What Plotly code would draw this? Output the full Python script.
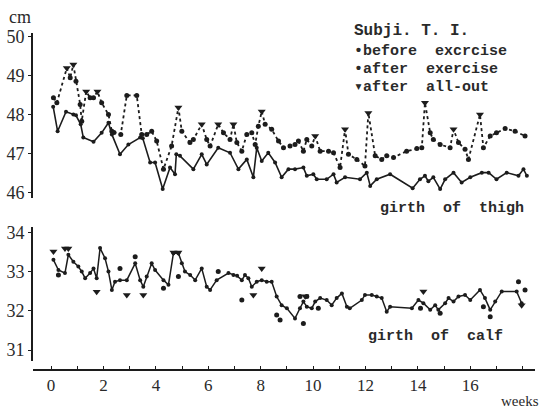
import plotly.graph_objects as go

# ---- thigh girth (cm) ----
thigh_before_weeks = [0.08, 0.25, 0.57, 0.85, 0.95, 1.13, 1.23, 1.62, 1.93, 2.19, 2.32, 2.63, 2.95, 3.4, 3.5,
                      3.78, 3.97, 4.26, 4.54, 4.73, 4.78, 4.92, 5.43, 5.75, 5.94, 6.38, 6.83, 7.15, 7.47, 7.72,
                      7.85, 8.04, 8.29, 8.55, 8.8, 9.06, 9.31, 9.63, 9.76, 10.01, 10.14, 10.52, 10.78, 10.9,
                      11.22, 11.79, 12.05, 12.18, 12.43, 12.94, 13.8, 14.08, 14.27, 14.4, 14.59, 14.85, 15.04,
                      15.36, 15.67, 16.0, 16.44, 16.7, 17.0, 17.39, 17.84, 18.03, 18.16]
thigh_before_vals = [48.21, 47.58, 48.08, 48.01, 47.99, 47.76, 47.42, 47.31, 47.54, 47.80, 47.50, 46.99, 47.24, 47.42, 47.40,
                     46.78, 46.78, 46.10, 46.65, 46.48, 46.99, 46.95, 46.61, 46.99, 46.73, 47.16, 47.03, 46.61, 46.86, 46.40,
                     47.16, 46.82, 47.03, 46.78, 46.40, 46.61, 46.61, 46.65, 46.44, 46.48, 46.35, 46.35, 46.48, 46.27,
                     46.40, 46.35, 46.52, 46.18, 46.35, 46.48, 46.12, 46.35, 46.44, 46.30, 46.40, 46.10, 46.35,
                     46.52, 46.27, 46.40, 46.52, 46.52, 46.35, 46.52, 46.44, 46.61, 46.44]

thigh_exercise_weeks = [0.09, 0.22, 0.73, 0.95, 1.11, 1.17, 1.49, 1.62, 1.93, 2.19, 2.32, 2.4, 2.66, 2.89, 3.27,
                        3.46, 3.65, 3.84, 4.03, 4.29, 4.6, 4.99, 5.3, 5.43, 5.94, 6.07, 6.58, 6.83, 7.09, 7.28,
                        7.47, 7.66, 7.79, 7.91, 8.17, 8.42, 8.68, 8.87, 9.12, 9.31, 9.44, 9.63, 9.76, 9.95, 10.27,
                        10.59, 10.78, 11.03, 11.35, 11.67, 11.98, 12.37, 12.62, 12.81, 13.07, 13.57, 13.96, 14.15,
                        14.47, 14.59, 14.85, 15.23, 15.55, 15.8, 15.93, 16.5, 16.76, 17.0, 17.33, 17.71, 18.09]
thigh_exercise_vals = [48.44, 48.31, 48.95, 48.86, 48.27, 47.84, 48.44, 48.44, 48.31, 48.01, 47.58, 47.55, 47.50, 48.50, 48.50,
                       47.50, 47.50, 47.58, 47.33, 46.61, 47.20, 47.58, 47.29, 47.37, 47.37, 47.20, 47.54, 47.37, 47.29, 47.07,
                       47.50, 47.54, 47.24, 47.71, 47.76, 47.63, 47.33, 47.16, 47.20, 47.24, 47.33, 47.07, 47.37, 47.20, 47.07,
                       47.07, 47.03, 46.65, 46.99, 46.86, 46.69, 46.95, 46.86, 46.95, 46.91, 47.07, 47.14, 47.16,
                       47.54, 47.37, 47.24, 47.16, 47.29, 47.12, 46.86, 47.16, 47.46, 47.54, 47.65, 47.58, 47.46]

thigh_allout_weeks = [0.6, 0.85, 1.34, 1.77, 4.86, 5.75, 6.38, 6.96, 8.04, 10.08, 11.22, 12.11, 14.27, 15.36, 16.37]
thigh_allout_vals = [49.20, 49.29, 48.60, 48.60, 48.19, 47.76, 47.76, 47.76, 48.09, 47.46, 47.63, 48.05, 48.31, 47.63, 48.01]

# ---- calf girth (cm) ----
calf_before_weeks = [0.09, 0.28, 0.53, 0.66, 0.85, 1.04, 1.17, 1.3, 1.49, 1.62, 1.74, 1.87, 2.06, 2.19, 2.32, 2.44,
                     2.63, 2.89, 3.21, 3.4, 3.52, 3.65, 3.84, 3.97, 4.29, 4.48, 4.67, 4.86, 4.99, 5.11, 5.31, 5.5,
                     5.75, 5.94, 6.07, 6.32, 6.77, 6.96, 7.1, 7.28, 7.4, 7.53, 7.66, 7.85, 8.04, 8.23, 8.42, 8.61,
                     8.8, 9.0, 9.31, 9.5, 9.63, 9.76, 9.95, 10.08, 10.27, 10.52, 10.71, 10.9, 11.1, 11.29, 11.4,
                     11.86, 11.98, 12.24, 12.43, 12.62, 12.81, 12.94, 13.77, 14.02, 14.21, 14.47, 14.66, 14.78,
                     15.04, 15.17, 15.36, 15.55, 15.8, 16.0, 16.37, 16.56, 16.76, 16.95, 17.2, 17.77, 17.96]
calf_before_vals = [33.31, 33.05, 32.97, 33.44, 33.26, 33.14, 33.01, 32.84, 32.97, 33.09, 32.84, 33.61, 33.35, 33.01, 32.54, 32.75,
                    32.79, 32.79, 33.22, 32.79, 32.62, 32.88, 33.22, 33.05, 32.79, 32.67, 33.48, 33.48, 33.22, 33.01, 32.92, 32.79,
                    33.09, 32.62, 32.54, 32.79, 32.97, 32.92, 32.90, 32.79, 32.92, 32.84, 32.62, 32.75, 32.79, 32.75, 32.75, 32.37,
                    32.15, 32.07, 31.81, 32.07, 32.24, 32.11, 32.07, 32.24, 32.33, 32.28, 32.15, 32.33, 32.45, 32.11, 32.07,
                    32.28, 32.41, 32.41, 32.37, 32.33, 31.98, 32.11, 32.07, 32.28, 32.20, 32.03, 32.15, 32.03,
                    32.20, 32.33, 32.24, 32.37, 32.41, 32.28, 32.54, 32.33, 32.03, 32.24, 32.50, 32.50, 32.20]

calf_exercise_weeks = [0.28, 2.63, 3.21, 4.29, 4.86, 6.38, 7.28, 8.61, 8.74, 9.5, 9.63, 9.76, 10.2, 14.1, 14.85,
                       16.5, 16.76, 17.84, 18.09]
calf_exercise_vals = [32.92, 33.09, 33.39, 32.58, 32.88, 33.01, 32.28, 31.90, 31.77, 32.37, 31.68, 32.37, 32.07, 32.07, 31.94,
                      32.11, 31.85, 32.75, 32.54]

calf_allout_weeks = [0.09, 0.53, 0.66, 1.74, 2.89, 3.52, 4.67, 4.86, 7.72, 8.04, 9.7, 14.21, 17.96]
calf_allout_vals = [33.52, 33.60, 33.60, 32.49, 32.41, 32.41, 33.50, 33.50, 32.41, 33.09, 32.38, 32.50, 32.15]

x_tick_vals = list(range(0, 19))
x_tick_text = [str(v) if v % 2 == 0 and v <= 16 else "" for v in x_tick_vals]

INK = "#1c1c1c"
SERIF = "Liberation Serif, DejaVu Serif, serif"
MONO = "Liberation Mono, DejaVu Sans Mono, monospace"

# dotted upper thigh trace joins the after-exercise and after-all-out readings in time order
upper = sorted(zip(thigh_exercise_weeks + thigh_allout_weeks, thigh_exercise_vals + thigh_allout_vals))
upper_w = [p[0] for p in upper]
upper_v = [p[1] for p in upper]

fig = go.Figure()

fig.add_trace(go.Scatter(x=upper_w, y=upper_v, mode="lines", yaxis="y",
                         line=dict(color=INK, width=1.8, dash="dot"), showlegend=False))
fig.add_trace(go.Scatter(x=thigh_exercise_weeks, y=thigh_exercise_vals, mode="markers", yaxis="y",
                         marker=dict(color=INK, size=5), showlegend=False))
fig.add_trace(go.Scatter(x=thigh_allout_weeks, y=thigh_allout_vals, mode="markers", yaxis="y",
                         marker=dict(color=INK, size=7, symbol="triangle-down"), showlegend=False))
fig.add_trace(go.Scatter(x=thigh_before_weeks, y=thigh_before_vals, mode="lines+markers", yaxis="y",
                         line=dict(color=INK, width=1.6), marker=dict(color=INK, size=4), showlegend=False))

fig.add_trace(go.Scatter(x=calf_before_weeks, y=calf_before_vals, mode="lines+markers", yaxis="y2",
                         line=dict(color=INK, width=1.5), marker=dict(color=INK, size=4), showlegend=False))
fig.add_trace(go.Scatter(x=calf_exercise_weeks, y=calf_exercise_vals, mode="markers", yaxis="y2",
                         marker=dict(color=INK, size=5), showlegend=False))
fig.add_trace(go.Scatter(x=calf_allout_weeks, y=calf_allout_vals, mode="markers", yaxis="y2",
                         marker=dict(color=INK, size=7, symbol="triangle-down"), showlegend=False))

# plot area spans x 33..535 px and y 33..370 px
L, R, T, B = 33, 535, 33, 370
W, H = R - L, B - T


def px(x):
    return (x - L) / W


def py(y):
    return (B - y) / H


yaxis_common = dict(showgrid=False, zeroline=False, showline=True, linecolor=INK, linewidth=2,
                    ticks="outside", ticklen=3, tickcolor=INK, dtick=1, automargin=False,
                    tickfont=dict(family=SERIF, size=18, color="#2a2a2a"))

fig.update_layout(
    width=545, height=411,
    margin=dict(l=L, r=545 - R, t=T, b=411 - B),
    paper_bgcolor="white", plot_bgcolor="white",
    xaxis=dict(range=[-0.69, 18.47], anchor="free", position=0, showgrid=False, zeroline=False,
               showline=True, linecolor=INK, linewidth=1.5, automargin=False,
               tickvals=x_tick_vals, ticktext=x_tick_text, ticks="inside", ticklen=3, tickcolor=INK,
               tickfont=dict(family=SERIF, size=17, color="#2a2a2a")),
    yaxis=dict(domain=[py(198), 1.0], range=[45.87, 50.10], tickvals=[46, 47, 48, 49, 50], **yaxis_common),
    yaxis2=dict(domain=[py(361), py(227)], range=[30.72, 34.15], tickvals=[31, 32, 33, 34], **yaxis_common),
    showlegend=False,
)

mono = dict(family=MONO, size=15, color="#2a2a2a", weight="bold")
annotations = [
    dict(text="cm", x=px(20), y=py(17), font=dict(family=SERIF, size=18, color="#2a2a2a")),
    dict(text="weeks", x=px(541), y=py(401), xanchor="right", font=dict(family=SERIF, size=15, color="#2a2a2a")),
    dict(text="Subji. T. I.", x=px(352), y=py(31), xanchor="left", font=dict(mono, size=16)),
    dict(text="\u2022before  excrcise", x=px(352), y=py(52), xanchor="left", font=mono),
    dict(text="\u2022after  exercise", x=px(352), y=py(69), xanchor="left", font=mono),
    dict(text="\u25beafter  all-out", x=px(352), y=py(87), xanchor="left", font=mono),
    dict(text="girth  of  thigh", x=px(378), y=py(208), xanchor="left", font=mono),
    dict(text="girth  of  calf", x=px(366), y=py(336), xanchor="left", font=mono),
]
for a in annotations:
    a.update(xref="paper", yref="paper", showarrow=False, yanchor="middle")
    a.setdefault("xanchor", "center")
fig.update_layout(annotations=annotations)

fig.write_html("out.html")
